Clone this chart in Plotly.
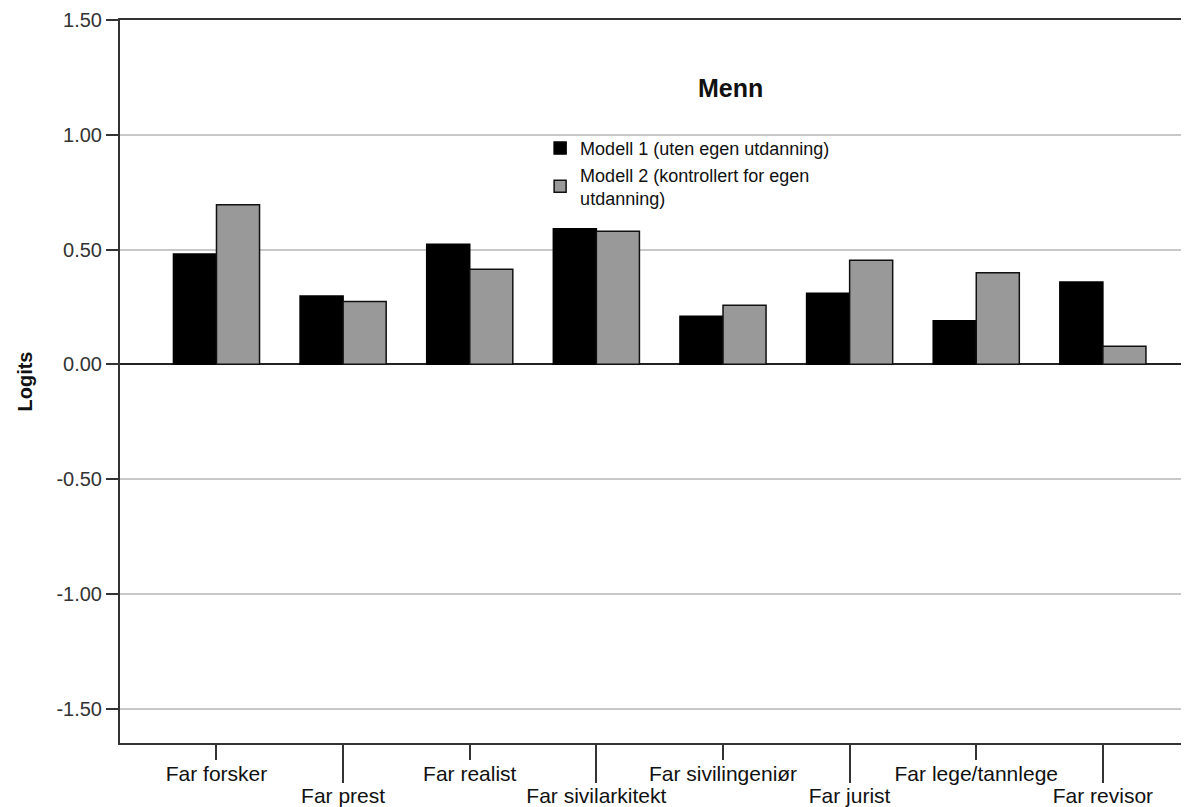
import plotly.graph_objects as go

categories = ["Far forsker", "Far prest", "Far realist", "Far sivilarkitekt",
              "Far sivilingeniør", "Far jurist", "Far lege/tannlege", "Far revisor"]
modell1 = [0.48, 0.297, 0.523, 0.591, 0.209, 0.31, 0.19, 0.358]
modell2 = [0.695, 0.274, 0.414, 0.58, 0.257, 0.453, 0.399, 0.079]
series_names = ["Modell 1 (uten egen utdanning)", "Modell 2 (kontrollert for egen<br>utdanning)"]
y_ticks = [-1.5, -1.0, -0.5, 0.0, 0.5, 1.0, 1.5]
y_tick_labels = ["-1.50", "-1.00", "-0.50", "0.00", "0.50", "1.00", "1.50"]

upper_labels = categories[0::2]
lower_labels = categories[1::2]

FONT = "Liberation Sans, Arial, sans-serif"

fig = go.Figure()
fig.add_trace(go.Bar(x=categories, y=modell1, name=series_names[0],
                     marker=dict(color="#000000", line=dict(color="#000000", width=1.5))))
fig.add_trace(go.Bar(x=categories, y=modell2, name=series_names[1],
                     marker=dict(color="#999999", line=dict(color="#111111", width=1.5))))
# helper trace so the second (lower-label) x axis is drawn
fig.add_trace(go.Scatter(x=categories, y=[None] * len(categories), xaxis="x2",
                         mode="markers", showlegend=False, hoverinfo="skip"))

n = len(categories)
xr = [-0.762, n - 1 + 0.68]

fig.update_layout(
    width=1181, height=799,
    margin=dict(l=112, r=0, t=12, b=64),
    paper_bgcolor="white", plot_bgcolor="white",
    barmode="group", bargap=0.32, bargroupgap=0,
    font=dict(family=FONT, size=20, color="#222222"),
    showlegend=True,
    legend=dict(x=0.393, y=0.848, xanchor="left", yanchor="top",
                bgcolor="rgba(0,0,0,0)", font=dict(size=18, color="#111111"),
                tracegroupgap=0, itemwidth=30),
    xaxis=dict(type="category", categoryorder="array", categoryarray=categories,
               range=xr, tickmode="array", tickvals=upper_labels, ticktext=upper_labels,
               ticks="outside", ticklen=15, tickwidth=2, tickcolor="#333333",
               showline=True, linecolor="#333333", linewidth=2, mirror=True,
               showgrid=False, zeroline=False, automargin=False, ticklabelstandoff=-4,
               tickfont=dict(size=21, color="#111111")),
    xaxis2=dict(type="category", categoryorder="array", categoryarray=categories,
                overlaying="x", matches="x", side="bottom", range=xr,
                tickmode="array", tickvals=lower_labels, ticktext=lower_labels,
                ticks="outside", ticklen=39, tickwidth=2, tickcolor="#333333",
                showline=False, showgrid=False, zeroline=False, automargin=False,
                ticklabelstandoff=-5,
                tickfont=dict(size=21, color="#111111")),
    yaxis=dict(range=[-1.65, 1.5], tickmode="array", tickvals=y_ticks,
               ticktext=y_tick_labels, ticks="outside", ticklen=12, tickwidth=2,
               tickcolor="#333333", showline=True, linecolor="#333333", linewidth=2,
               showgrid=True, gridcolor="#c8c8c8", gridwidth=2, automargin=False,
               zeroline=True, zerolinecolor="#222222", zerolinewidth=2,
               tickfont=dict(size=20, color="#333333"),
               title=dict(text="<b>Logits</b>", font=dict(size=20, color="#111111"), standoff=18)),
    annotations=[dict(text="<b>Menn</b>", xref="paper", yref="paper",
                      x=0.571, y=0.906, xanchor="center", yanchor="middle",
                      showarrow=False, font=dict(size=25, color="#111111"))],
)

fig.write_html("out.html")
